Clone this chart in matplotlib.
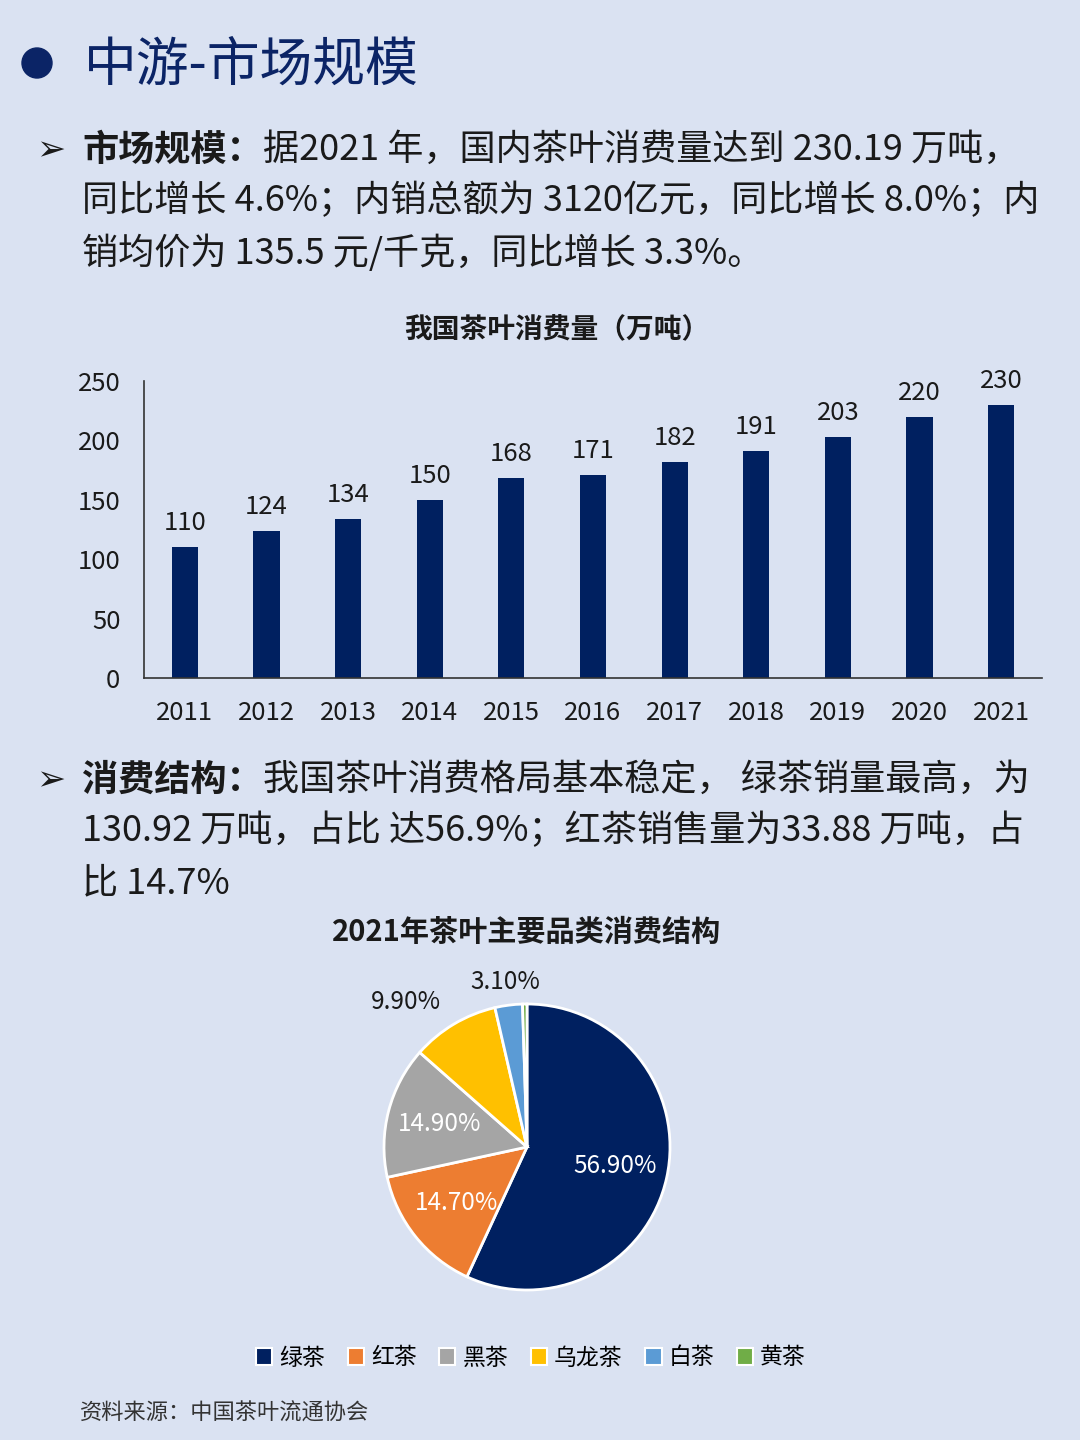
import numpy as np
import matplotlib
matplotlib.use('Agg')
from matplotlib import pyplot as plt
from matplotlib.patches import Ellipse

plt.rcParams['font.family'] = ['Noto Sans CJK SC', 'DejaVu Sans']

# 数据
years = ['2011', '2012', '2013', '2014', '2015', '2016', '2017', '2018', '2019', '2020', '2021']
consumption = [110, 124, 134, 150, 168, 171, 182, 191, 203, 220, 230]

tea_types = ['绿茶', '红茶', '黑茶', '乌龙茶', '白茶', '黄茶']
tea_share = [56.9, 14.7, 14.9, 9.9, 3.1, 0.5]
tea_colors = ['#002060', '#ED7D31', '#A5A5A5', '#FFC000', '#5B9BD5', '#70AD47']

bg = '#DAE2F2'
navy = '#0B2466'
ink = '#1A1A1A'

W, H = 1080, 1440
fig = plt.figure(figsize=(W / 100, H / 100), dpi=100, facecolor=bg)


def px(x, y):
    return x / W, 1 - y / H


# 标题
fig.patches.append(Ellipse(px(37, 63), 30 / W, 30 / H, transform=fig.transFigure,
                           color=navy, zorder=5))
fig.text(*px(84, 65), '中游-市场规模', fontsize=38, color=navy, va='center')

renderer = fig.canvas.get_renderer()
body = 26


def para(x, y, bold_part, normal_part):
    fig.text(*px(36, y), '➢', fontsize=25, color=ink, va='center',
             family=['DejaVu Sans'])
    t = fig.text(*px(x, y), bold_part, fontsize=body, color=ink, va='center',
                 fontweight='bold')
    bb = t.get_window_extent(renderer)
    fig.text(bb.x1 / W, 1 - y / H, normal_part, fontsize=body, color=ink, va='center')


para(82, 150, '市场规模：', '据2021 年，国内茶叶消费量达到 230.19 万吨，')
fig.text(*px(82, 201), '同比增长 4.6%；内销总额为 3120亿元，同比增长 8.0%；内',
         fontsize=body, color=ink, va='center')
fig.text(*px(82, 253), '销均价为 135.5 元/千克，同比增长 3.3%。',
         fontsize=body, color=ink, va='center')

para(82, 780, '消费结构：', '我国茶叶消费格局基本稳定， 绿茶销量最高，为')
fig.text(*px(82, 831), '130.92 万吨，占比 达56.9%；红茶销售量为33.88 万吨，占',
         fontsize=body, color=ink, va='center')
fig.text(*px(82, 883), '比 14.7%', fontsize=body, color=ink, va='center')

# 柱状图
fig.text(*px(557, 330), '我国茶叶消费量（万吨）', fontsize=20, fontweight='bold',
         color=ink, ha='center', va='center')
ax = fig.add_axes([144 / W, 1 - 678 / H, (1042 - 144) / W, (678 - 381) / H])
ax.set_facecolor('none')
x = np.arange(len(years))
bars = ax.bar(x, consumption, width=0.32, color='#002060')
ax.bar_label(bars, labels=[str(v) for v in consumption], padding=8,
             fontsize=18.5, color=ink)
ax.set_xlim(-0.5, len(years) - 0.5)
ax.set_ylim(0, 250)
ax.set_yticks([0, 50, 100, 150, 200, 250])
ax.set_xticks(x)
ax.set_xticklabels(years)
ax.tick_params(length=0, labelsize=18.5, labelcolor=ink)
ax.tick_params(axis='y', pad=17)
ax.tick_params(axis='x', pad=16)
for s in ['top', 'right']:
    ax.spines[s].set_visible(False)
for s in ['left', 'bottom']:
    ax.spines[s].set_color('#333333')
    ax.spines[s].set_linewidth(1.2)

# 饼图
fig.text(*px(527, 932), '2021年茶叶主要品类消费结构', fontsize=21, fontweight='bold',
         color=ink, ha='center', va='center')
r = 143
box = 2 * r * 1.5
pax = fig.add_axes([(527 - box / 2) / W, 1 - (1147 + box / 2) / H, box / W, box / H])
pax.set_facecolor('none')
wedges, texts, autotexts = pax.pie(
    tea_share, colors=tea_colors, startangle=90, counterclock=False,
    autopct=lambda p: f'{p:.2f}%', pctdistance=0.63, radius=1,
    wedgeprops=dict(edgecolor='white', linewidth=2),
    textprops=dict(fontsize=17.5, color='white'))
pax.set_xlim(-1.5, 1.5)
pax.set_ylim(-1.5, 1.5)
pax.set_aspect('equal')
for w, t, v in zip(wedges, autotexts, tea_share):
    if v < 1:
        t.set_visible(False)
    elif v < 12:
        ang = np.deg2rad((w.theta1 + w.theta2) / 2)
        d = 1.18 if v > 5 else 1.16
        t.set_position((d * np.cos(ang), d * np.sin(ang)))
        t.set_color(ink)
        if np.cos(ang) < -0.3:
            t.set_ha('right')

handles = [plt.Rectangle((0, 0), 1, 1, facecolor=c, edgecolor='white', linewidth=1.5)
           for c in tea_colors]
fig.legend(handles, tea_types, loc='center', bbox_to_anchor=px(531, 1358), ncol=6,
           frameon=False, fontsize=16.5, handlelength=0.7, handleheight=0.7,
           handletextpad=0.3, columnspacing=1.0)

fig.text(*px(80, 1413), '资料来源：中国茶叶流通协会', fontsize=16, color='#333333',
         va='center', style='italic')

fig.savefig('out.png', dpi=100, facecolor=bg)
